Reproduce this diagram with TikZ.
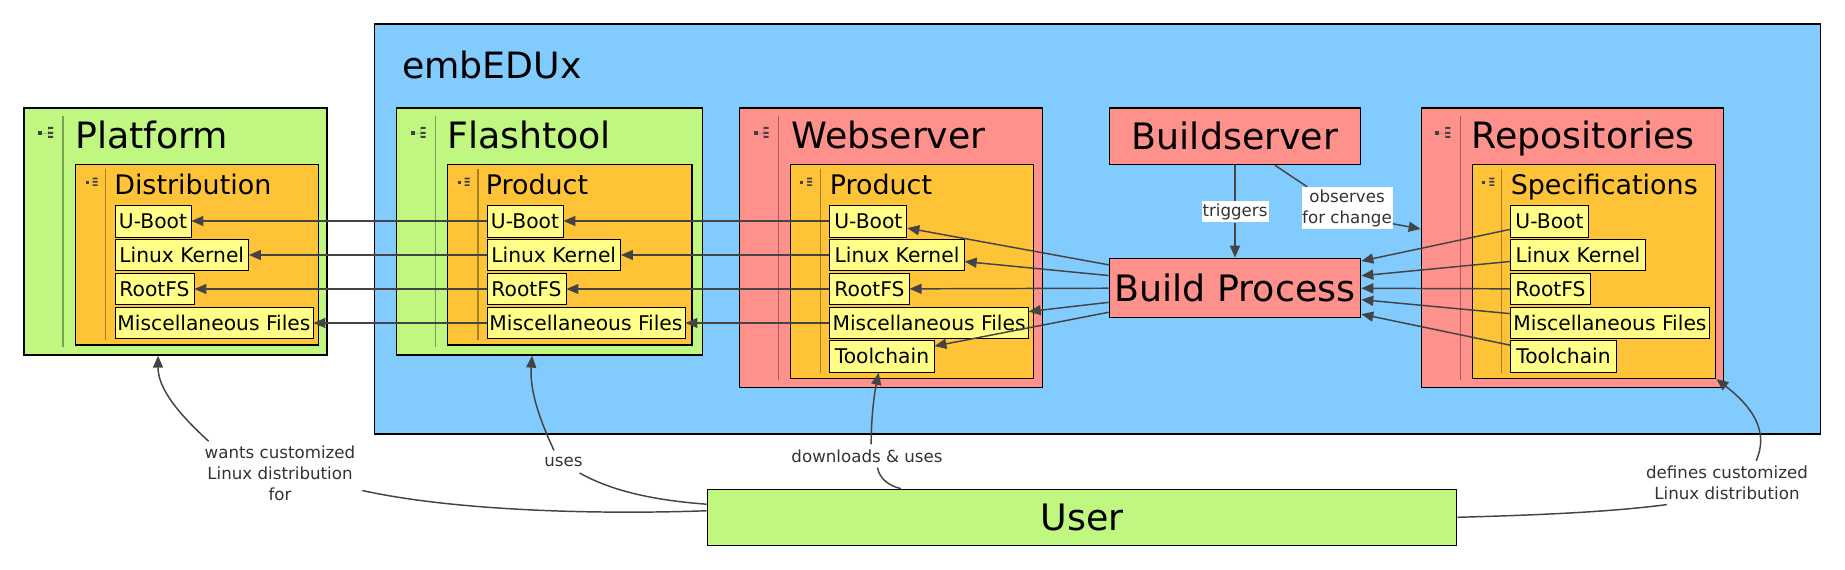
\documentclass[tikz,border=0pt]{standalone}
\usepackage{fontspec}
\setmainfont{DejaVu Sans}
\usetikzlibrary{arrows.meta}
\definecolor{leaf}{HTML}{C0F780}
\definecolor{sky}{HTML}{82CBFF}
\definecolor{salmon}{HTML}{FF918C}
\definecolor{amber}{HTML}{FFC337}
\definecolor{lemon}{HTML}{FFFF88}
\definecolor{wire}{HTML}{444444}
\tikzset{
    size/.style 2 args={minimum width=#1*0.75pt, minimum height=#2*0.75pt},
    panel/.style={draw=black, line width=1pt, inner sep=0pt},
    inner/.style={panel, fill=amber},
    entry/.style={draw=black, line width=0.7pt, fill=lemon, inner sep=0pt, anchor=west,
        font=\fontsize{15.2}{18}\selectfont},
    title/.style={anchor=base west, inner sep=0pt, font=\fontsize{27.2}{30}\selectfont},
    subtitle/.style={anchor=base west, inner sep=0pt, font=\fontsize{20.2}{24}\selectfont},
    bigtext/.style={font=\fontsize{27.3}{30}\selectfont},
    tag/.style={fill=white, inner sep=0pt, align=center, text=black!80,
        font=\fontsize{12.5}{15.75}\selectfont},
    flow/.style={draw=wire, line width=1.1pt, -{Triangle[length=9pt,width=7.5pt]}},
    wire/.style={draw=wire, line width=1.1pt},
    divider/.style={draw=black, opacity=0.35, line width=1pt},
    bigicon/.pic={
        \draw[black, opacity=0.15, line width=0.5pt] (18,25) -- (24,25) (24,20) -- (24,29);
        \fill[black!75] (14,23) rectangle (18,27);
        \fill[black!75] (24,19) rectangle (29,21) (24,24) rectangle (29,26) (24,28) rectangle (29,30);
    },
    smallicon/.pic={
        \fill[black!75] (10,16.5) rectangle (13,19.5);
        \fill[black!75] (17,13.2) rectangle (22,14.8) (17,16.5) rectangle (22,18.1) (17,19.8) rectangle (22,21.4);
    }
}
\begin{document}
\begin{tikzpicture}[x=0.75pt, y=-0.75pt]
\useasboundingbox (0,0) rectangle (1845,570);

% Outer area
\node[panel, fill=sky, size={1446.2}{410}] (Blue) at (1097.6,229) {};
\node[title] (BlueTitle) at (402,79) {embEDUx};

% Platform
\node[panel, fill=leaf, size={303}{247}] (Plat) at (175.5,231.5) {};
\node[inner, size={243}{180.5}] (Dist) at (197,254.75) {};
\node[title] (PlatTitle) at (75,149) {Platform};
\node[subtitle] (DistTitle) at (114,194.3) {Distribution};
\node[entry, size={76}{32}] (D1) at (114.5,221) {U-Boot};
\node[entry, size={133.5}{31}] (D2) at (114.5,255) {Linux Kernel};
\node[entry, size={79}{31}] (D3) at (114.5,289) {RootFS};
\node[entry, size={198}{31}] (D4) at (114.5,323) {Miscellaneous Files};
\draw[divider] (63,116) -- (63,347);
\draw[divider] (105.5,169) -- (105.5,340);
\pic at (24,108) {bigicon};
\pic at (75.5,164.5) {smallicon};

% Flashtool
\node[panel, fill=leaf, size={306}{247}] (Flash) at (549.5,231.5) {};
\node[inner, size={244.5}{180.5}] (FProd) at (569.75,254.75) {};
\node[title] (FlashTitle) at (447,149) {Flashtool};
\node[subtitle] (FProdTitle) at (485.5,194.3) {Product};
\node[entry, size={76}{32}] (F1) at (486.5,221) {U-Boot};
\node[entry, size={133.5}{31}] (F2) at (486.5,255) {Linux Kernel};
\node[entry, size={79}{31}] (F3) at (486.5,289) {RootFS};
\node[entry, size={198}{31}] (F4) at (486.5,323) {Miscellaneous Files};
\draw[divider] (435.5,116) -- (435.5,347);
\draw[divider] (478,169) -- (478,340);
\pic at (396.5,108) {bigicon};
\pic at (447.5,164.5) {smallicon};

% Webserver
\node[panel, fill=salmon, size={302.8}{279.3}] (Web) at (891,247.65) {};
\node[inner, size={243.3}{214}] (WProd) at (911.85,271.3) {};
\node[title] (WebTitle) at (791.5,149) {Webserver};
\node[subtitle] (WProdTitle) at (829.5,194.3) {Product};
\node[entry, size={77}{32}] (W1) at (829.4,221) {U-Boot};
\node[entry, size={134.3}{31}] (W2) at (829.4,255) {Linux Kernel};
\node[entry, size={79.2}{31}] (W3) at (829.4,289) {RootFS};
\node[entry, size={198.4}{31}] (W4) at (829.4,323) {Miscellaneous Files};
\node[entry, size={104.1}{32}] (W5) at (829.4,356.3) {Toolchain};
\draw[divider] (778.8,116) -- (778.8,380);
\draw[divider] (820.4,169) -- (820.4,373);
\pic at (739.6,108) {bigicon};
\pic at (790.2,164.5) {smallicon};

% Buildserver and build process
\node[panel, fill=salmon, size={251.3}{56.5}, bigtext] (Build) at (1235,136.25) {Buildserver};
\node[panel, fill=salmon, size={251.3}{59}, bigtext] (Proc) at (1235,287.8) {Build Process};

% Repositories
\node[panel, fill=salmon, size={302.4}{279.3}] (Repo) at (1572.5,247.65) {};
\node[inner, size={243.4}{214}] (Spec) at (1594,271.3) {};
\node[title] (RepoTitle) at (1471.5,149) {Repositories};
\node[subtitle] (SpecTitle) at (1510.5,194.3) {Specifications};
\node[entry, size={77.4}{32}] (S1) at (1510.3,221) {U-Boot};
\node[entry, size={134.4}{31}] (S2) at (1510.3,255) {Linux Kernel};
\node[entry, size={79.4}{31}] (S3) at (1510.3,289) {RootFS};
\node[entry, size={198.4}{31}] (S4) at (1510.3,323) {Miscellaneous Files};
\node[entry, size={105.4}{32}] (S5) at (1510.3,356.3) {Toolchain};
\draw[divider] (1460.7,116) -- (1460.7,380);
\draw[divider] (1501.7,169) -- (1501.7,373);
\pic at (1421.3,108) {bigicon};
\pic at (1472.3,164.5) {smallicon};

% User
\node[panel, fill=leaf, size={749.4}{56}, bigtext] (User) at (1082,517.3) {User};

% Labels
\node[tag, size={67}{21}] (Trig) at (1235,212) {triggers};
\node[tag, size={91}{41.7}] (Obs) at (1347,208) {observes\\for change};
\node[tag, size={164}{63}] (Wants) at (280,473) {wants customized\\Linux distribution\\for};
\node[tag, size={44}{22}] (Uses) at (563.5,461.7) {uses};
\node[tag, size={152}{22.6}] (Down) at (867,456) {downloads \& uses};
\node[tag, size={168}{43.3}] (Defs) at (1727,482.7) {defines customized\\Linux distribution};

% Platform gets the same files from the flashtool
\draw[flow] (F1) -- (D1);
\draw[flow] (F2) -- (D2);
\draw[flow] (F3) -- (D3);
\draw[flow] (F4) -- (D4);

% Flashtool from webserver
\draw[flow] (W1) -- (F1);
\draw[flow] (W2) -- (F2);
\draw[flow] (W3) -- (F3);
\draw[flow] (W4) -- (F4);

% Build process to webserver
\draw[flow] (Proc) -- (W1);
\draw[flow] (Proc) -- (W2);
\draw[flow] (Proc) -- (W3);
\draw[flow] (Proc) -- (W4);
\draw[flow] (Proc) -- (W5);

% Specifications to build process
\draw[flow] (S1) -- (Proc);
\draw[flow] (S2) -- (Proc);
\draw[flow] (S3) -- (Proc);
\draw[flow] (S4) -- (Proc);
\draw[flow] (S5) -- (Proc);

% Buildserver edges
\draw[wire] (Build) -- (Trig);
\draw[flow] (Trig) -- (Proc);
\draw[wire] (Build.-36.6) -- (Obs.152.7);
\draw[flow] (Obs.-19.6) -- (Repo.173.1);

% User edges
\draw[wire] (User.179.85) .. controls (590,515) and (450,510) .. (Wants.-12.85);
\draw[flow] (Wants.156.7) .. controls (172,408) and (158,385) .. (Plat.-98.1);
\draw[wire] (User.178.25) .. controls (650,500) and (610,490) .. (Uses.-35.7);
\draw[flow] (Uses.130) .. controls (535,410) and (530,385) .. (Flash.-98.8);
\draw[wire] (User.171.1) .. controls (890,486) and (880,480) .. (Down.-48.5);
\draw[flow] (Down.70.5) .. controls (871,420) and (874,395) .. (W5.-101);
\draw[wire] (User.0.29) .. controls (1540,515) and (1610,512) .. (Defs.-160.8);
\draw[flow] (Defs.37.1) .. controls (1770,430) and (1750,405) .. (Spec.south east);

\end{tikzpicture}
\end{document}
